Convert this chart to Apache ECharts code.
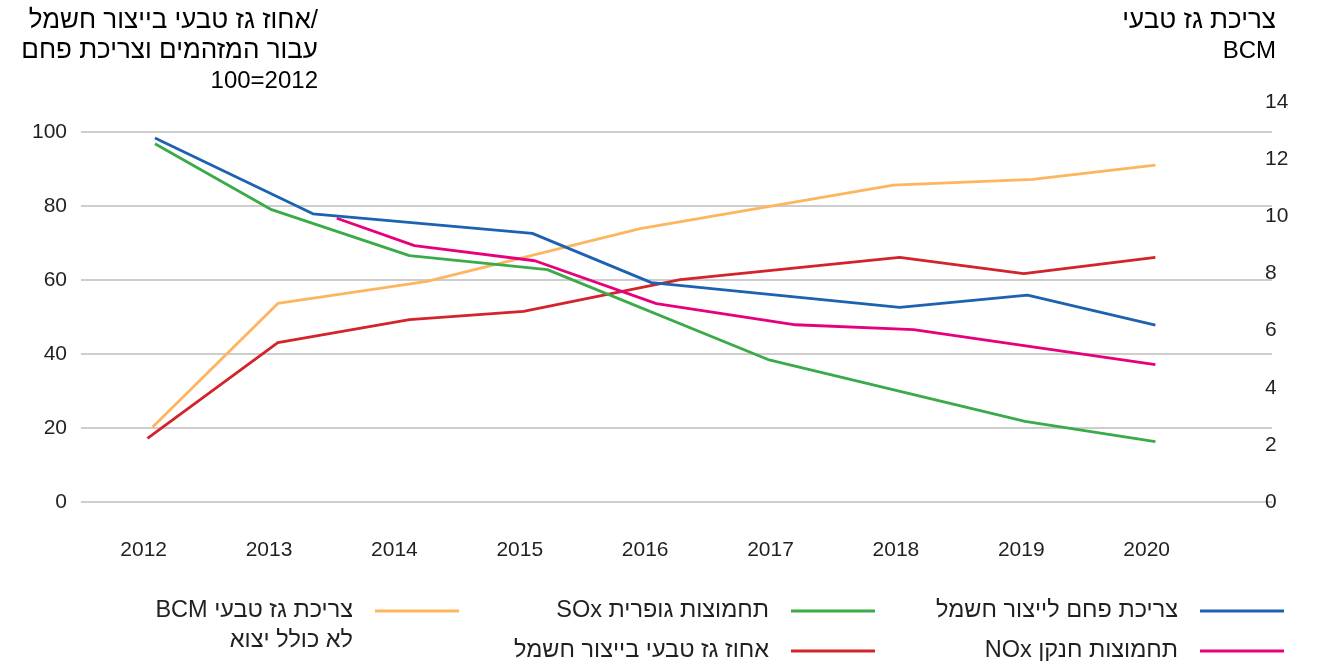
<!DOCTYPE html>
<html>
<head>
<meta charset="utf-8">
<script src="https://cdn.jsdelivr.net/npm/echarts@6/dist/echarts.min.js"></script>
<style>
  html, body { margin: 0; background: #fff; }
  #main { width: 1325px; height: 666px; }
</style>
</head>
<body>
<div id="main"></div>
<script>
// tick labels
const yearTicks = [2012, 2013, 2014, 2015, 2016, 2017, 2018, 2019, 2020];

// series - x positions (years) and values
const coalYears = [2012.09, 2013.35, 2015.10, 2016.05, 2018.03, 2019.05, 2020.07];
const coalValues = [98.4, 77.9, 72.6, 59.3, 52.6, 55.9, 47.8];

const noxYears = [2013.54, 2014.16, 2015.12, 2016.09, 2017.20, 2018.14, 2020.07];
const noxValues = [76.7, 69.3, 65.2, 53.6, 47.9, 46.6, 37.1];

const soxYears = [2012.09, 2013.02, 2014.12, 2015.22, 2016.98, 2019.03, 2020.07];
const soxValues = [96.8, 79.0, 66.6, 62.8, 38.5, 21.8, 16.3];

const gasShareYears = [2012.03, 2013.07, 2014.12, 2015.03, 2016.28, 2018.03, 2019.02, 2020.07];
const gasShareValues = [17.2, 43.1, 49.3, 51.5, 60.1, 66.1, 61.7, 66.1];

const gasBcmYears = [2012.07, 2013.07, 2014.26, 2015.96, 2017.98, 2019.09, 2020.07];
const gasBcmValues = [2.62, 6.95, 7.72, 9.57, 11.09, 11.29, 11.79];

const names = {
  coal: 'צריכת פחם לייצור חשמל',
  nox: 'תחמוצות חנקן NOx',
  sox: 'תחמוצות גופרית SOx',
  gasShare: 'אחוז גז טבעי בייצור חשמל',
  gasBcm: 'צריכת גז טבעי BCM\nלא כולל יצוא'
};

const FONT = "'Liberation Sans', 'DejaVu Sans', sans-serif";
const TXT = '#231f20';

function zip(xs, ys) {
  return xs.map((x, i) => [x, ys[i]]);
}

// legend text is laid out right-to-left (latin parts go to the left)
function rtl(name) {
  return name.split('\n').map(l => '\u202B' + l + '\u202C').join('\n');
}

function lineSeries(name, xs, ys, color, idx) {
  return {
    name: name,
    type: 'line',
    xAxisIndex: idx,
    yAxisIndex: idx,
    data: zip(xs, ys),
    symbol: 'none',
    lineStyle: { width: 2.8, color: color },
    itemStyle: { color: color },
    z: 3
  };
}

function legendCol(data, right, top, extra) {
  return Object.assign({
    data: data,
    orient: 'vertical',
    align: 'right',
    right: right,
    top: top,
    padding: 0,
    itemGap: 14,
    itemWidth: 84,
    itemHeight: 3,
    icon: 'rect',
    selectedMode: false,
    formatter: rtl,
    textStyle: {
      fontFamily: FONT, fontSize: 23.5, color: TXT,
      lineHeight: 26, padding: [0, 17, 0, 0]
    }
  }, extra || {});
}

const titleRich = {
  h: { fontFamily: FONT, fontSize: 26, lineHeight: 30, color: TXT },
  d: { fontFamily: FONT, fontSize: 24, lineHeight: 30, color: TXT }
};

const chart = echarts.init(document.getElementById('main'));

chart.setOption({
  animation: false,
  backgroundColor: '#fff',
  textStyle: { fontFamily: FONT },
  graphic: [
    {
      type: 'text', x: 318, y: 6,
      style: {
        text: '{h|אחוז גז טבעי בייצור חשמל/}\n{h|עבור המזהמים וצריכת פחם}\n{d|100=2012}',
        rich: titleRich,
        align: 'right', verticalAlign: 'top'
      }
    },
    {
      type: 'text', x: 1276, y: 6,
      style: {
        text: '{h|צריכת גז טבעי}\n{d|BCM}',
        rich: titleRich,
        align: 'right', verticalAlign: 'top'
      }
    }
  ],
  grid: [
    { left: 81, right: 53, top: 132, bottom: 164 },
    { left: 81, right: 53, top: 102, bottom: 164 }
  ],
  xAxis: [
    {
      gridIndex: 0, type: 'value', min: 2011.5, max: 2021,
      axisLine: { show: false }, axisTick: { show: false }, splitLine: { show: false },
      axisLabel: {
        customValues: yearTicks, formatter: v => String(v),
        fontSize: 21, color: TXT, margin: 38
      }
    },
    { gridIndex: 1, type: 'value', min: 2011.5, max: 2021, show: false }
  ],
  yAxis: [
    {
      gridIndex: 0, type: 'value', position: 'left', min: 0, max: 100, interval: 20,
      axisLine: { show: false }, axisTick: { show: false },
      splitLine: { lineStyle: { color: '#bdbdbd', width: 1.5 } },
      axisLabel: { fontSize: 21, color: TXT, margin: 14 }
    },
    {
      gridIndex: 1, type: 'value', position: 'right', min: 0, max: 14, interval: 2,
      axisLine: { show: false }, axisTick: { show: false }, splitLine: { show: false },
      axisLabel: { fontSize: 21, color: TXT, margin: -7 }
    }
  ],
  legend: [
    legendCol([names.coal, names.nox], 41, 598),
    legendCol([names.sox, names.gasShare], 450, 598),
    // two-line label: a blank first line keeps line one level with the icon
    legendCol([names.gasBcm], 866, 566, {
      formatter: name => rtl('\n' + name),
      textStyle: {
        fontFamily: FONT, fontSize: 23.5, color: TXT,
        lineHeight: 30, padding: [0, 17, 0, 0]
      }
    })
  ],
  series: [
    lineSeries(names.gasBcm, gasBcmYears, gasBcmValues, '#fdb560', 1),
    lineSeries(names.gasShare, gasShareYears, gasShareValues, '#d3232b', 0),
    lineSeries(names.sox, soxYears, soxValues, '#3bab4a', 0),
    lineSeries(names.nox, noxYears, noxValues, '#e6007e', 0),
    lineSeries(names.coal, coalYears, coalValues, '#1c62b0', 0)
  ]
});
</script>
</body>
</html>
